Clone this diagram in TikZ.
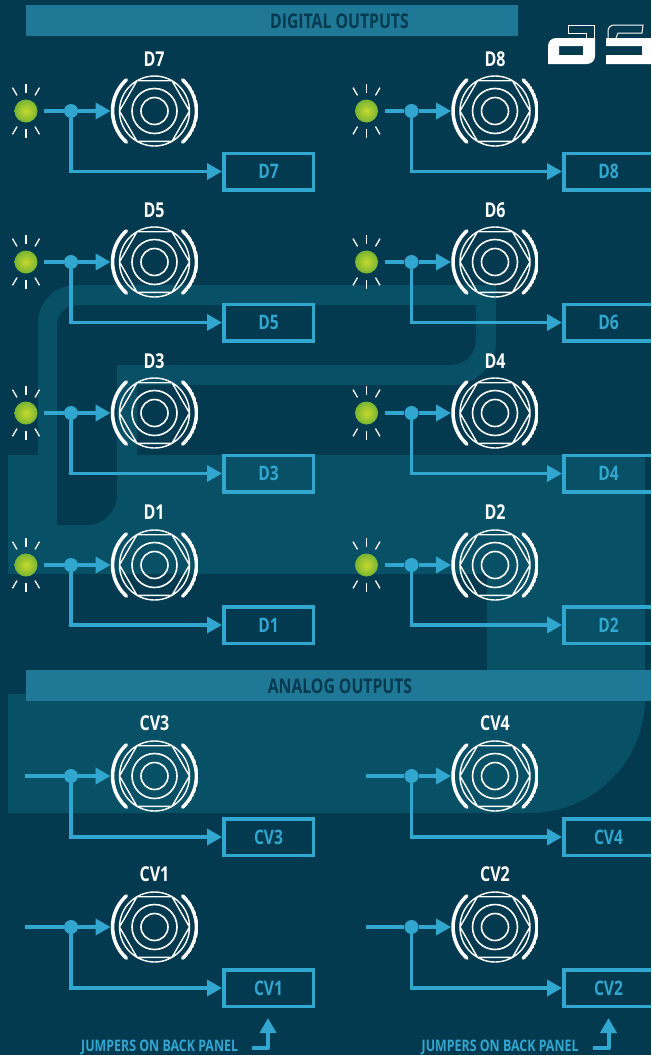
\documentclass[tikz,border=0pt]{standalone}
\usepackage{fontspec}
\setmainfont[FakeStretch=0.78]{Open Sans}
\usetikzlibrary{arrows.meta}
\definecolor{panelbg}{HTML}{033A4F}
\definecolor{panelmark}{HTML}{085066}
\definecolor{headbar}{HTML}{1F7896}
\definecolor{wireblue}{HTML}{31A6CF}
\definecolor{ledcore}{HTML}{C6DA2E}
\definecolor{ledrim}{HTML}{78B433}
\tikzset{
    headbar/.style={fill=headbar, inner sep=0pt, minimum height=31pt},
    headtext/.style={text=panelbg, inner sep=0pt, font=\fontsize{20.2}{20.2}\bfseries},
    pinname/.style={text=white, inner sep=0pt, font=\fontsize{20.5}{20.5}\bfseries},
    jack/.style={circle, minimum size=87.5pt, inner sep=0pt, path picture={
        \draw[white, line width=3.6pt, line cap=round]
            (path picture bounding box.center) ++(132:42) arc (132:228:42)
            (path picture bounding box.center) ++(-48:42) arc (-48:48:42);
        \draw[white, line width=1.4pt] (path picture bounding box.center) circle (35)
            ++(-35,0) -- ++(17.5,30.3) -- ++(35,0) -- ++(17.5,-30.3) -- ++(-17.5,-30.3) -- ++(-35,0) -- cycle;
        \draw[white, line width=1.6pt] (path picture bounding box.center) circle (22.5);
        \draw[white, line width=1.6pt] (path picture bounding box.center) circle (13.5);
    }},
    led/.style={circle, minimum size=23pt, outer sep=6.5pt, inner sep=0pt, inner color=ledcore, outer color=ledrim},
    ray/.style={white, line width=1.3pt},
    dot/.style={circle, fill=wireblue, minimum size=14pt, inner sep=0pt},
    outbox/.style={draw=wireblue, line width=3.5pt, minimum width=89.5pt, minimum height=36.5pt, inner sep=0pt,
        text=wireblue, font=\fontsize{20}{20}\bfseries},
    wire/.style={wireblue, line width=3.5pt},
    tip/.style={-{Triangle[length=15pt,width=16pt]}},
    elbow/.style={to path={|- (\tikztotarget)}},
    backnote/.style={text=wireblue, inner sep=0pt, font=\fontsize{15.9}{15.9}\bfseries},
}
\begin{document}
\begin{tikzpicture}[x=1pt, y=-1pt]
    \clip (0,0) rectangle (651,1055);
    \fill[panelbg] (0,0) rectangle (651,1055);

    % watermark
    \fill[panelmark, even odd rule]
        (8,455) -- (38,455) -- (38,323) arc (180:270:38) -- (496,285) -- (496,341) arc (0:90:44)
        -- (137,385) -- (137,455) -- (645,455) -- (645,698) arc (0:90:115) -- (8,813) -- (8,694)
        -- (487,694) -- (487,574) -- (8,574) -- cycle
        (57,325) arc (180:270:20) -- (476,305) -- (476,340) arc (0:90:25) -- (117,365) -- (117,495)
        arc (0:90:30) -- (57,525) -- cycle;

    % logo
    \fill[white, even odd rule] (548,64) -- (548,46) arc (180:270:8) -- (595,38) -- (595,56)
        arc (0:90:8) -- cycle (559,46) rectangle (583,55);
    \draw[white, line width=1pt] (586,38) -- (586,33) -- (568,33) -- (568,25) -- (594,25) -- (594,38);
    \fill[white] (606,38) rectangle (651,46) (642,46) rectangle (651,55) (606,55) rectangle (651,64);
    \draw[white, line width=1pt] (608,38) -- (608,31) arc (180:270:6) -- (643,25) -- (642,33) -- (618,33) -- (616,38);

    % headers
    \node[headbar, minimum width=492pt] at (272,20.5)(digital){};
    \node[headtext] at (339.5,21)(digitaltext){DIGITAL OUTPUTS};
    \node[headbar, minimum width=625pt] at (338.5,685.5)(analog){};
    \node[headtext] at (340,686)(analogtext){ANALOG OUTPUTS};

    % digital left column
    \node[pinname] at (154,59)(n7){D7};
    \node[pinname] at (154,210)(n5){D5};
    \node[pinname] at (154,361)(n3){D3};
    \node[pinname] at (154,512)(n1){D1};
    \node[jack] at (154.5,111)(j7){};
    \node[jack] at (154.5,262)(j5){};
    \node[jack] at (154.5,413)(j3){};
    \node[jack] at (154.5,565)(j1){};
    \node[led] at (26,111)(l7){};
    \node[led] at (26,262)(l5){};
    \node[led] at (26,413)(l3){};
    \node[led] at (26,565)(l1){};
    \node[dot] at (71,111)(d7){};
    \node[dot] at (71,262)(d5){};
    \node[dot] at (71,413)(d3){};
    \node[dot] at (71,565)(d1){};
    \node[outbox] at (268.5,171.5)(b7){D7};
    \node[outbox] at (268.5,322.5)(b5){D5};
    \node[outbox] at (268.5,473.5)(b3){D3};
    \node[outbox] at (268.5,625)(b1){D1};

    % digital right column
    \node[pinname] at (495,59)(n8){D8};
    \node[pinname] at (495,210)(n6){D6};
    \node[pinname] at (495,361)(n4){D4};
    \node[pinname] at (495,512)(n2){D2};
    \node[jack] at (495,111)(j8){};
    \node[jack] at (495,262)(j6){};
    \node[jack] at (495,413)(j4){};
    \node[jack] at (495,565)(j2){};
    \node[led] at (366.5,111)(l8){};
    \node[led] at (366.5,262)(l6){};
    \node[led] at (366.5,413)(l4){};
    \node[led] at (366.5,565)(l2){};
    \node[dot] at (411.5,111)(d8){};
    \node[dot] at (411.5,262)(d6){};
    \node[dot] at (411.5,413)(d4){};
    \node[dot] at (411.5,565)(d2){};
    \node[outbox] at (608.5,171.5)(b8){D8};
    \node[outbox] at (608.5,322.5)(b6){D6};
    \node[outbox] at (608.5,473.5)(b4){D4};
    \node[outbox] at (608.5,625)(b2){D2};

    % analog
    \node[pinname] at (154.5,723)(n13){CV3};
    \node[pinname] at (154.5,874)(n11){CV1};
    \node[pinname] at (495,723)(n14){CV4};
    \node[pinname] at (495,874)(n12){CV2};
    \node[jack] at (154.5,776)(j13){};
    \node[jack] at (154.5,927)(j11){};
    \node[jack] at (495,776)(j14){};
    \node[jack] at (495,927)(j12){};
    \coordinate (s13) at (25,776);
    \coordinate (s11) at (25,927);
    \coordinate (s14) at (365.5,776);
    \coordinate (s12) at (365.5,927);
    \node[dot] at (71,776)(d13){};
    \node[dot] at (71,927)(d11){};
    \node[dot] at (411.5,776)(d14){};
    \node[dot] at (411.5,927)(d12){};
    \node[outbox] at (268.5,837)(b13){CV3};
    \node[outbox] at (268.5,988)(b11){CV1};
    \node[outbox] at (608.5,837)(b14){CV4};
    \node[outbox] at (608.5,988)(b12){CV2};

    % jumpers
    \node[backnote, anchor=base west] at (81,1051.8)(note1){JUMPERS ON BACK PANEL};
    \node[backnote, anchor=base west] at (421.5,1051.8)(note2){JUMPERS ON BACK PANEL};
    \coordinate (c1) at (252,1048);
    \coordinate (c2) at (592.5,1048);
    \coordinate (e1) at (268,1048);
    \coordinate (e2) at (608.5,1048);
    \coordinate (t1) at (268,1018);
    \coordinate (t2) at (608.5,1018);

    \foreach \n in {l1,l2,l3,l4,l5,l6,l7,l8}
        \foreach \a in {60,90,120,240,270,300}
            \draw[ray] (\n.\a) -- ++(-\a:9);

    \path[wire]
    (l7) edge (d7) (l5) edge (d5) (l3) edge (d3) (l1) edge (d1)
    (l8) edge (d8) (l6) edge (d6) (l4) edge (d4) (l2) edge (d2)
    (s13) edge (d13) (s11) edge (d11) (s14) edge (d14) (s12) edge (d12)
    ;
    \path[wire, tip]
    (d7) edge (j7) (d5) edge (j5) (d3) edge (j3) (d1) edge (j1)
    (d8) edge (j8) (d6) edge (j6) (d4) edge (j4) (d2) edge (j2)
    (d13) edge (j13) (d11) edge (j11) (d14) edge (j14) (d12) edge (j12)
    (d7) edge[elbow] (b7) (d5) edge[elbow] (b5) (d3) edge[elbow] (b3) (d1) edge[elbow] (b1)
    (d8) edge[elbow] (b8) (d6) edge[elbow] (b6) (d4) edge[elbow] (b4) (d2) edge[elbow] (b2)
    (d13) edge[elbow] (b13) (d11) edge[elbow] (b11) (d14) edge[elbow] (b14) (d12) edge[elbow] (b12)
    ;
    \draw[wire, tip, line width=4pt, line join=round] (c1) -- (e1) -- (t1);
    \draw[wire, tip, line width=4pt, line join=round] (c2) -- (e2) -- (t2);
\end{tikzpicture}
\end{document}
